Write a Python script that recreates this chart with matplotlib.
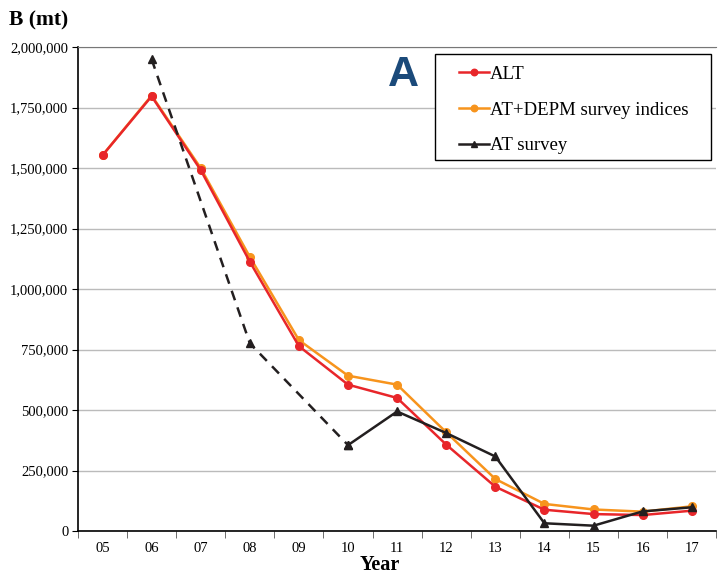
import matplotlib
matplotlib.use("Agg")
import matplotlib.pyplot as plt
from matplotlib.patches import Rectangle
import numpy as np

years = ["05", "06", "07", "08", "09", "10", "11", "12", "13", "14", "15", "16", "17"]
alt = [1553000, 1797000, 1492000, 1113000, 764000, 605000, 550000, 357000, 183000, 88000, 70000, 66000, 84000]
at_depm = [1553000, 1800000, 1500000, 1133000, 789000, 642000, 605000, 408000, 215000, 112000, 89000, 80000, 102000]
# AT survey: early years dashed (gaps between), later solid
at_dash_years = ["06", "08", "10"]
at_dash_vals = [1950000, 776000, 355000]
at_solid_years = ["10", "11", "12", "13", "14", "15", "16", "17"]
at_solid_vals = [355000, 494000, 405000, 308000, 32000, 22000, 81000, 98000]
yticks = [0, 250000, 500000, 750000, 1000000, 1250000, 1500000, 1750000, 2000000]

plt.rcParams['font.family'] = ['Liberation Serif', 'DejaVu Serif']

fig = plt.figure(figsize=(7.18, 5.75), dpi=100)
ax = fig.add_axes([0.1086, 0.0765, 0.889, 0.8415])

idx = {y: i for i, y in enumerate(years)}
x = np.arange(len(years))

red = '#e8262a'
orange = '#f7941d'
black = '#231f20'

ax.plot(x, alt, color=red, lw=1.8, marker='o', ms=5.5, label='ALT', zorder=4)
ax.plot(x, at_depm, color=orange, lw=1.8, marker='o', ms=5.5, label='AT+DEPM survey indices', zorder=3)
ax.plot([idx[y] for y in at_dash_years], at_dash_vals, color=black, lw=1.8, ls=(0, (4, 3)),
        marker='^', ms=5.5, zorder=5)
ax.plot([idx[y] for y in at_solid_years], at_solid_vals, color=black, lw=1.8,
        marker='^', ms=5.5, label='AT survey', zorder=5)

ax.set_xlim(-0.5, len(years) - 0.5)
ax.set_ylim(0, 2000000)
ax.set_yticks(yticks)
ax.set_yticklabels([f"{v:,}" for v in yticks], fontsize=10.5)
ax.set_xticks(x)
ax.set_xticklabels(years, fontsize=10.5)
ax.set_xticks(np.arange(-0.5, len(years)), minor=True)
ax.tick_params(axis='x', which='major', length=0, pad=8)
ax.tick_params(axis='x', which='minor', length=5, direction='out', color='#555555')
ax.tick_params(axis='y', length=4, direction='out', pad=3)

ax.grid(axis='y', color='#bbbbbb', lw=1.0)
ax.set_axisbelow(True)
ax.spines['right'].set_visible(False)
ax.spines['top'].set_color('#777777')
ax.spines['left'].set_color('black')
ax.spines['bottom'].set_color('black')
ax.spines['left'].set_linewidth(1.2)
ax.spines['bottom'].set_linewidth(1.2)

ax.set_xlabel('Year', fontsize=14.5, fontweight='bold')
ax.xaxis.set_label_coords(0.472, -0.049)
fig.text(0.012, 0.965, 'B (mt)', fontsize=15.5, fontweight='bold', ha='left', va='center')

fig.text(0.562, 0.869, 'A', fontsize=31, fontweight='bold', color='#1b4a7a',
         family=['Liberation Sans Narrow', 'Liberation Sans', 'DejaVu Sans'], ha='center', va='center')

# legend frame (plain rectangle in figure coordinates)
ax.add_patch(Rectangle((0.6058, 0.7217), 0.3844, 0.1843, transform=fig.transFigure,
                       facecolor='white', edgecolor='black', lw=1.0, zorder=8, clip_on=False))
leg = ax.legend(loc='upper left', bbox_to_anchor=(0.639, 0.886), bbox_transform=fig.transFigure,
                fontsize=13.5, frameon=False, borderpad=0, labelspacing=1.0,
                handlelength=1.6, handletextpad=0.05, borderaxespad=0, markerscale=0.85)
leg.set_zorder(10)

fig.savefig('out.png', dpi=100)
